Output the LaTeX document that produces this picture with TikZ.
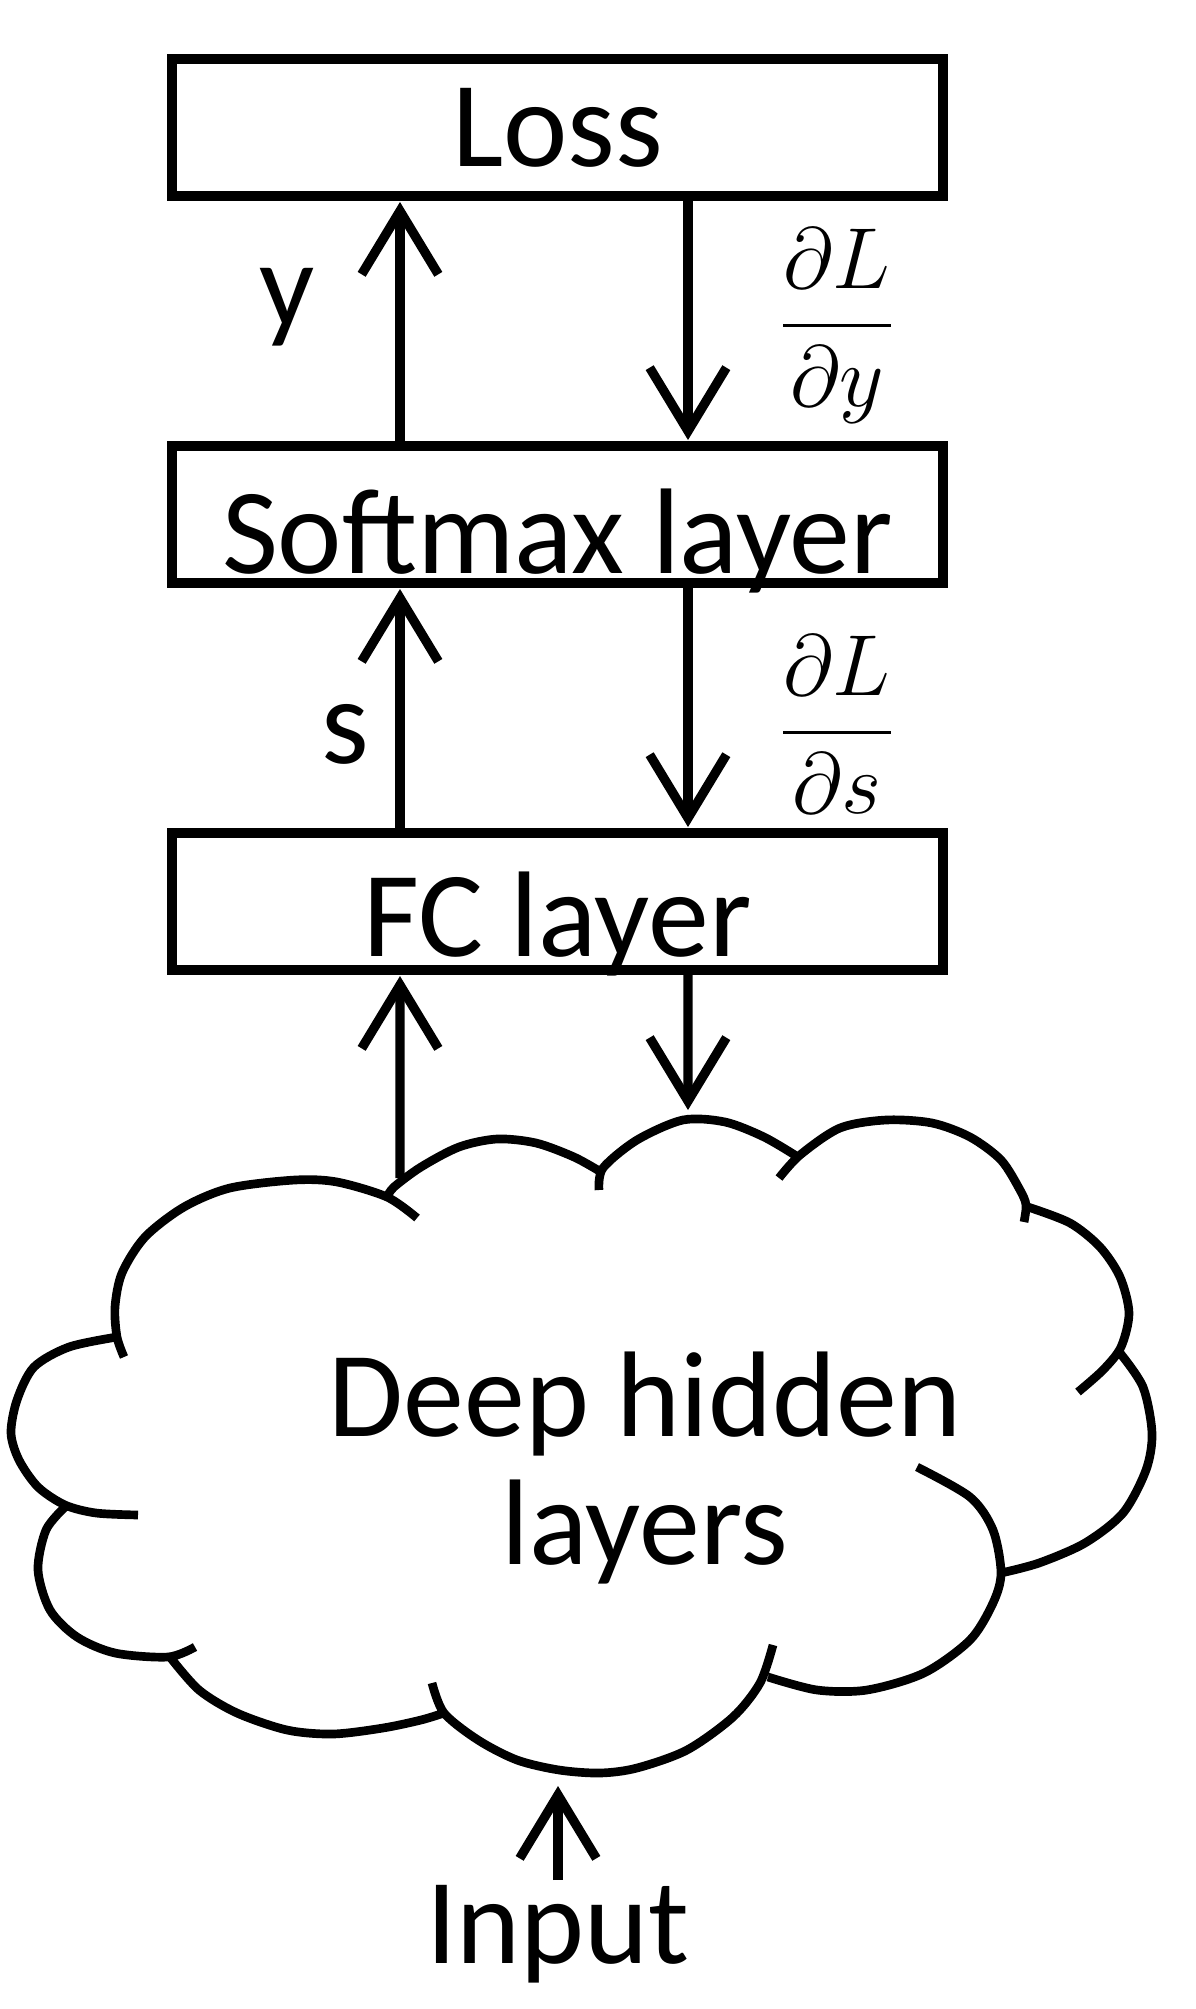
\documentclass[tikz,border=0pt]{standalone}
\usepackage{amsmath}
\usepackage{fontspec}
\setmainfont{Carlito}
\usetikzlibrary{positioning, arrows.meta}

\begin{document}
\begin{tikzpicture}[x=0.015cm, y=-0.015cm, line width=0.14cm,
   font=\fontsize{52}{55}\selectfont,
   layer/.style = {draw, rectangle, minimum width=11.565cm, minimum height=2.055cm,
      inner sep=0pt, outer sep=0pt, text depth=0pt},
   arr/.style = {-{Straight Barb[length=0.95cm, width=1.15cm]}, shorten >=0.09cm},
   lbl/.style = {inner sep=0pt, anchor=base},
   frac/.style = {lbl, font=\fontsize{24.88}{30}\selectfont, scale=1.487}]
   \useasboundingbox (0,0) rectangle (1196,2009);

   \node[layer, text height=1.185cm] (loss) at (557.5,127.5) {Loss};
   \node[layer, text height=1.755cm, below=3.75cm of loss] (softmax) {Softmax layer};
   \node[layer, text height=1.635cm, below=3.75cm of softmax] (fc) {FC layer};

   % cloud
   \draw[line width=0.13cm]
      plot[smooth] coordinates {(124,1357) (117,1337) (115,1307) (122,1273) (145,1237) (184,1207) (230,1188) (295,1180) (337,1182) (387,1197) (417,1218)}
      plot[smooth] coordinates {(387,1197) (394,1187) (421,1167) (459,1147) (497,1139) (536,1143) (574,1157) (601,1172)}
      plot[smooth] coordinates {(599,1190) (603,1168) (637,1140) (683,1120) (725,1122) (764,1137) (798,1157)}
      plot[smooth] coordinates {(779,1178) (800,1155) (840,1128) (886,1120) (932,1123) (970,1137) (1001,1160) (1020,1190) (1026,1205) (1024,1222)}
      plot[smooth] coordinates {(1028,1207) (1070,1223) (1100,1247) (1120,1277) (1129,1313) (1121,1347) (1103,1370) (1078,1392)}
      plot[smooth] coordinates {(1120,1353) (1143,1387) (1152,1433) (1146,1470) (1123,1513) (1085,1543) (1039,1563) (1001,1573)}
      plot[smooth] coordinates {(768,1677) (817,1690) (867,1690) (924,1673) (970,1640) (993,1603) (1001,1573) (993,1530) (970,1497) (917,1467)}
      plot[smooth] coordinates {(432,1683) (444,1713) (478,1740) (517,1760) (559,1770) (600,1773) (637,1768) (687,1750) (733,1717) (760,1683) (773,1645)}
      plot[smooth] coordinates {(170,1657) (199,1690) (237,1713) (287,1730) (333,1734) (383,1728) (421,1720) (444,1713)}
      plot[smooth] coordinates {(65,1507) (46,1530) (38,1570) (50,1610) (77,1637) (115,1653) (168,1657) (195,1647)}
      plot[smooth] coordinates {(117,1337) (69,1347) (34,1367) (17,1400) (11,1433) (19,1460) (38,1487) (65,1505) (96,1513) (138,1515)};
   \node[align=center, inner sep=0pt] (hidden) at (645,1468) {Deep hidden\\layers};
   \coordinate (cin) at (400,1178);
   \coordinate (cout) at (688,1116);
   \coordinate (cbot) at (558,1780);

   \node[lbl] (input) at (558,1963) {Input};

   % forward
   \draw[arr] ([xshift=-2.3625cm]softmax.north) -- ([xshift=-2.3625cm]loss.south);
   \draw[arr] ([xshift=-2.3625cm]fc.north) -- ([xshift=-2.3625cm]softmax.south);
   \draw[arr] (cin) -- ([xshift=-2.3625cm]fc.south);
   \draw[arr] (input.north) -- (cbot);
   % backward
   \draw[arr] ([xshift=1.9575cm]loss.south) -- ([xshift=1.9575cm]softmax.north);
   \draw[arr] ([xshift=1.9575cm]softmax.south) -- ([xshift=1.9575cm]fc.north);
   \draw[arr] ([xshift=1.9575cm]fc.south) -- (cout);

   \node[lbl] (ylab) at (287,327) {y};
   \node[lbl] (slab) at (345,763) {s};
   \node[frac] (dldy) at (837,347) {$\dfrac{\partial L}{\partial y}$};
   \node[frac] (dlds) at (837,754) {$\dfrac{\partial L}{\partial s}$};
\end{tikzpicture}
\end{document}
